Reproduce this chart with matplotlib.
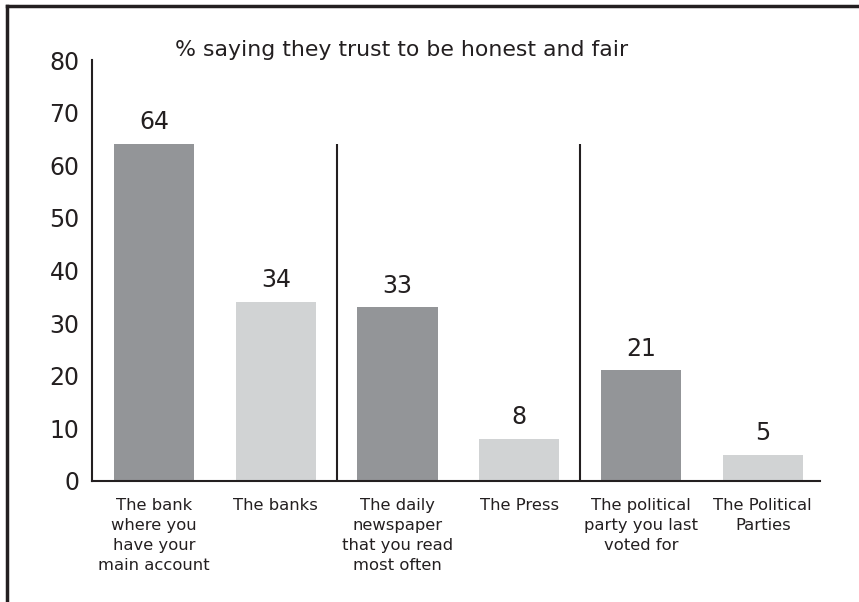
import matplotlib
matplotlib.use('Agg')
import matplotlib.pyplot as plt
from matplotlib.lines import Line2D

categories = ['The bank\nwhere you\nhave your\nmain account', 'The banks',
              'The daily\nnewspaper\nthat you read\nmost often', 'The Press',
              'The political\nparty you last\nvoted for', 'The Political\nParties']
values = [64, 34, 33, 8, 21, 5]
colors = ['#939598', '#d1d3d4', '#939598', '#d1d3d4', '#939598', '#d1d3d4']
yticks = [0, 10, 20, 30, 40, 50, 60, 70, 80]
title = '% saying they trust to be honest and fair'

plt.rcParams['font.family'] = 'DejaVu Sans'

fig = plt.figure(figsize=(8.59, 6.02), dpi=100)
ax = fig.add_axes([92 / 859, 121 / 602, (820 - 92) / 859, (481 - 60) / 602])

x = range(len(values))
ax.bar(x, values, width=0.66, color=colors)
for i, v in enumerate(values):
    ax.annotate(str(v), (i, v), xytext=(0, 7), textcoords='offset points',
                ha='center', va='bottom', fontsize=17, color='#231f20')

# separators between the three pairs
for sx in [1.5, 3.5]:
    ax.plot([sx, sx], [0, 64], color='#231f20', lw=1.5, solid_capstyle='butt')

ax.set_xlim(-0.51, 5.47)
ax.set_ylim(0, 80)
ax.set_yticks(yticks)
ax.set_xticks(list(x))
ax.set_xticklabels(categories, fontsize=11.8, color='#231f20', linespacing=1.42)
ax.tick_params(axis='y', length=0, pad=9, labelsize=17, labelcolor='#231f20')
ax.tick_params(axis='x', length=0, pad=12)
ax.spines['top'].set_visible(False)
ax.spines['right'].set_visible(False)
ax.spines['left'].set_linewidth(1.5)
ax.spines['bottom'].set_linewidth(1.5)
ax.spines['left'].set_color('#231f20')
ax.spines['bottom'].set_color('#231f20')

fig.text(175 / 859, 1 - 50 / 602, title, fontsize=15.8, color='#231f20', va='center')

# frame lines on top and left
fig.add_artist(Line2D([7 / 859, 1], [1 - 6 / 602, 1 - 6 / 602], color='#231f20', lw=2.5,
                      transform=fig.transFigure))
fig.add_artist(Line2D([7 / 859, 7 / 859], [0, 1 - 6 / 602], color='#231f20', lw=2.5,
                      transform=fig.transFigure))

fig.savefig('out.png', dpi=100)
